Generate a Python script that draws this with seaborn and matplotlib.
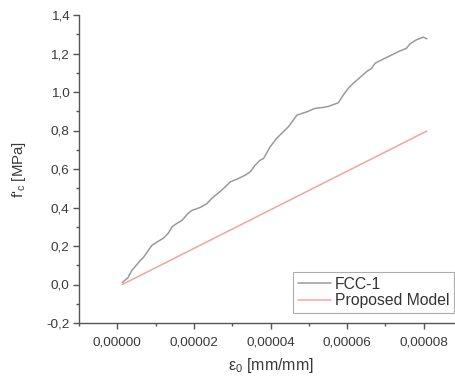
import numpy as np
import pandas as pd
import matplotlib
matplotlib.use("Agg")
import matplotlib.pyplot as plt
import matplotlib.ticker as mticker
import seaborn as sns

# FCC-1 test curve: strain [mm/mm] and stress [MPa]
fcc_strain = [1.3e-6, 2.8e-6, 3.8e-6, 4.7e-6, 6.0e-6, 6.8e-6, 8.1e-6, 9.0e-6,
              1.03e-5, 1.2e-5, 1.33e-5, 1.43e-5, 1.56e-5, 1.69e-5, 1.85e-5,
              1.95e-5, 2.16e-5, 2.34e-5, 2.47e-5, 2.63e-5, 2.77e-5, 2.95e-5,
              3.16e-5, 3.34e-5, 3.47e-5, 3.60e-5, 3.73e-5, 3.82e-5, 3.99e-5,
              4.16e-5, 4.29e-5, 4.47e-5, 4.69e-5, 4.95e-5, 5.16e-5, 5.38e-5,
              5.51e-5, 5.77e-5, 5.90e-5, 6.03e-5, 6.16e-5, 6.34e-5, 6.51e-5,
              6.64e-5, 6.73e-5, 6.90e-5, 7.12e-5, 7.34e-5, 7.55e-5, 7.64e-5,
              7.81e-5, 7.99e-5, 8.08e-5]
fcc_stress = [0.01, 0.036, 0.073, 0.094, 0.125, 0.140, 0.177, 0.203,
              0.220, 0.240, 0.266, 0.300, 0.318, 0.333, 0.370,
              0.385, 0.400, 0.420, 0.448, 0.474, 0.498, 0.533,
              0.550, 0.568, 0.585, 0.620, 0.646, 0.655, 0.715,
              0.759, 0.785, 0.820, 0.880, 0.897, 0.915, 0.920,
              0.925, 0.944, 0.984, 1.019, 1.045, 1.076, 1.106,
              1.123, 1.149, 1.167, 1.188, 1.210, 1.227, 1.250,
              1.271, 1.285, 1.276]

# Proposed model: straight line between its end points
model_strain = [1.3e-6, 8.08e-5]
model_stress = [0.0, 0.797]

x_ticks = [0.0, 0.00002, 0.00004, 0.00006, 0.00008]
y_ticks = [-0.2, 0.0, 0.2, 0.4, 0.6, 0.8, 1.0, 1.2, 1.4]

sns.set_style("ticks")
plt.rcParams["font.family"] = ["Liberation Sans", "DejaVu Sans"]
plt.rcParams["mathtext.fontset"] = "custom"
plt.rcParams["mathtext.rm"] = "Liberation Sans"
plt.rcParams["mathtext.it"] = "Liberation Sans"
plt.rcParams["mathtext.default"] = "rm"

df = pd.concat([
    pd.DataFrame({"strain": fcc_strain, "stress": fcc_stress, "series": "FCC-1"}),
    pd.DataFrame({"strain": model_strain, "stress": model_stress, "series": "Proposed Model"}),
])

fig = plt.figure(figsize=(4.56, 3.78), dpi=100)
ax = fig.add_axes([79 / 456, 55 / 378, 383 / 456, 308 / 378])

sns.lineplot(data=df, x="strain", y="stress", hue="series",
             palette={"FCC-1": "#9a9a9a", "Proposed Model": "#f4a3a3"},
             linewidth=1.1, ax=ax, sort=False, estimator=None)

ax.set_xlim(-0.00001, 0.00009)
ax.set_ylim(-0.2, 1.4)
ax.set_xticks(x_ticks)
ax.set_yticks(y_ticks)
ax.xaxis.set_minor_locator(mticker.MultipleLocator(0.00001))
ax.yaxis.set_minor_locator(mticker.MultipleLocator(0.1))
ax.set_xticklabels([f"{v:.5f}".replace(".", ",") for v in x_ticks])
ax.set_yticklabels([f"{v:.1f}".replace(".", ",") for v in y_ticks])

for s in ("top", "right"):
    ax.spines[s].set_visible(False)
for s in ("left", "bottom"):
    ax.spines[s].set_color("#555555")
    ax.spines[s].set_linewidth(1.0)

ax.tick_params(which="major", direction="out", length=4, width=1.0,
               color="#555555", labelsize=9.7, labelcolor="#3a3a3a", pad=3)
ax.tick_params(which="minor", direction="out", length=2.5, width=1.0,
               color="#555555")
ax.tick_params(axis="x", pad=6)

ax.set_xlabel("ε$_0$ [mm/mm]", fontsize=11.5, color="#3a3a3a", labelpad=5)
ax.set_ylabel("f'$_c$ [MPa]", fontsize=10.8, color="#3a3a3a", labelpad=13)

leg = ax.legend(loc="lower right", bbox_to_anchor=(454 / 456, 65 / 378),
                bbox_transform=fig.transFigure, fontsize=11.3, frameon=True,
                fancybox=False, handlelength=2.1, handletextpad=0.25,
                borderpad=0.3, labelspacing=0.1, borderaxespad=0.0)
leg.get_frame().set_edgecolor("#999999")
leg.get_frame().set_linewidth(0.8)
for t in leg.get_texts():
    t.set_color("#333333")

fig.savefig("out.png", dpi=100)
